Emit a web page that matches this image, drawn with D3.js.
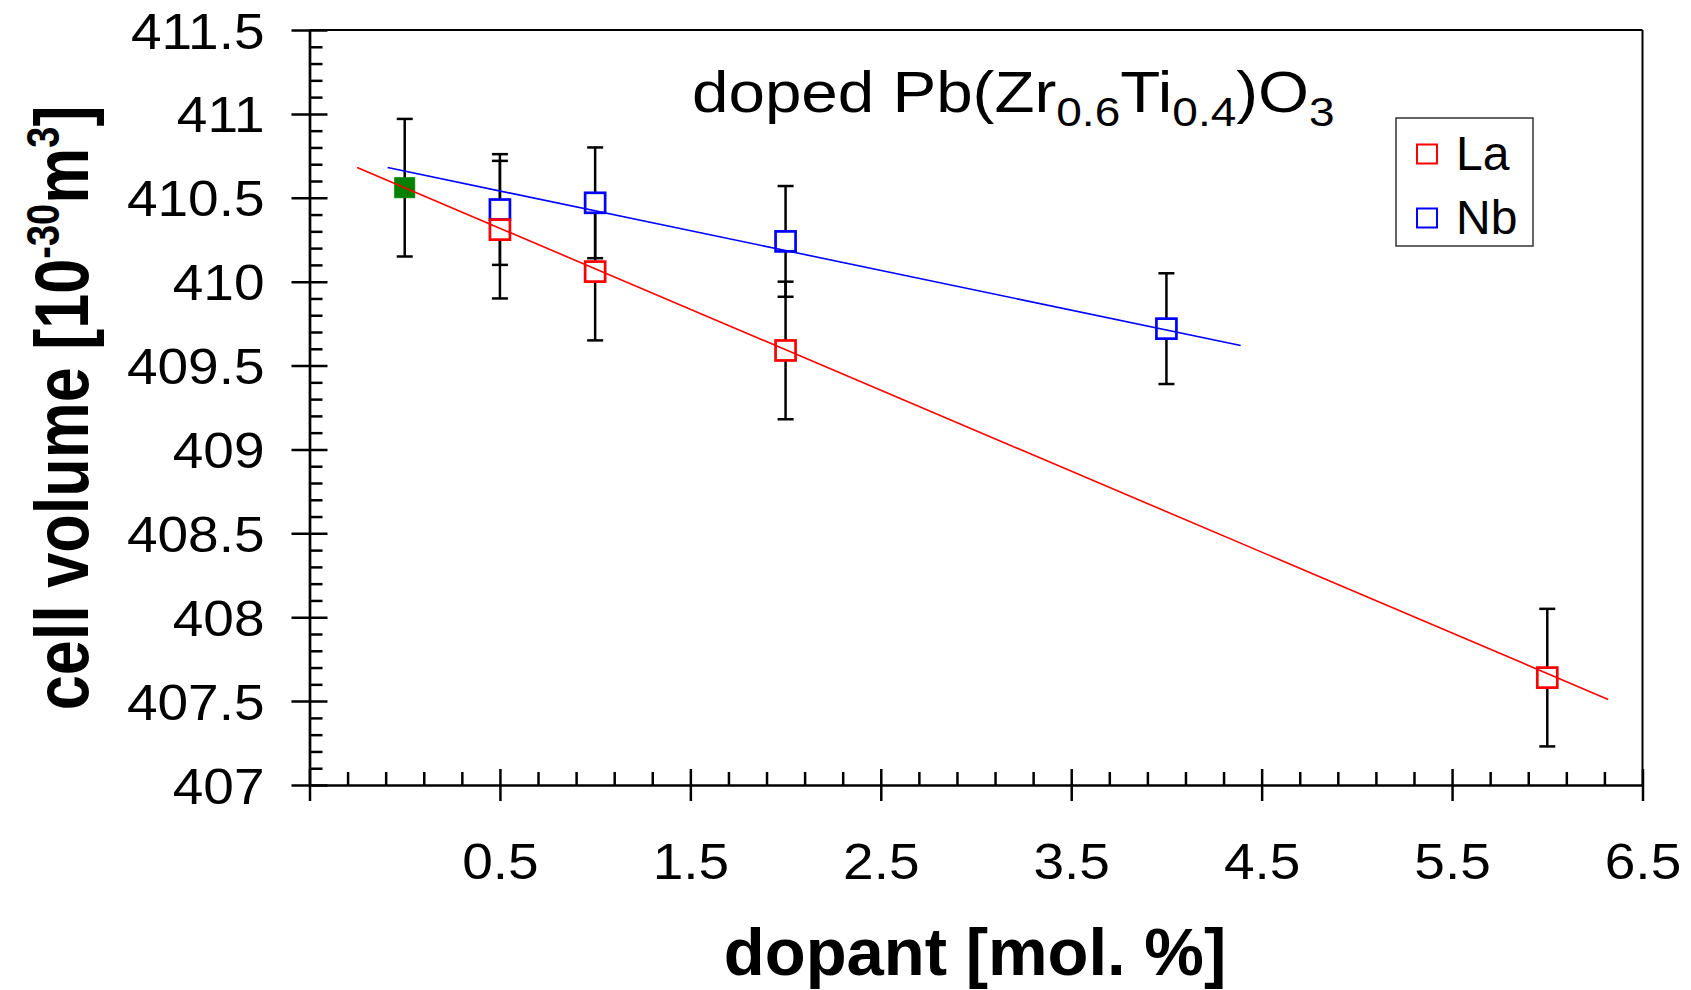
<!DOCTYPE html>
<html>
<head>
<meta charset="utf-8">
<script src="https://cdn.jsdelivr.net/npm/d3@7/dist/d3.min.js"></script>
<style>
  html, body { margin: 0; padding: 0; background: #fff; }
  svg text { font-family: "Liberation Sans", Arial, Helvetica, sans-serif; }
</style>
</head>
<body>
<div id="wrapper"></div>
<script>
// data
const laDopant = [0.5, 1, 2, 6];
const laVolume = [410.31, 410.06, 409.59, 407.64];
const laError  = [0.41, 0.41, 0.41, 0.41];

const nbDopant = [0.5, 1, 2, 4];
const nbVolume = [410.43, 410.47, 410.24, 409.72];
const nbError  = [0.33, 0.33, 0.33, 0.33];

// undoped point (filled green)
const pztDopant = [0];
const pztVolume = [410.56];
const pztError  = [0.41];

// linear fits, end points
const laFitX = [-0.25, 6.32];
const laFitY = [410.68, 407.51];
const nbFitX = [-0.09, 4.39];
const nbFitY = [410.68, 409.62];

const xTickValues = [-0.5, 0.5, 1.5, 2.5, 3.5, 4.5, 5.5, 6.5];
const yTickValues = [407, 407.5, 408, 408.5, 409, 409.5, 410, 410.5, 411, 411.5];

const legendNames = ["La", "Nb"];
const legendColors = ["#ff0000", "#0000ff"];

function drawChart() {
    let dimensions = {
        width: 1691,
        height: 990,
        margin: { top: 30, right: 48.5, bottom: 205, left: 309.5 },
    };
    dimensions.boundedWidth = dimensions.width - dimensions.margin.left - dimensions.margin.right;
    dimensions.boundedHeight = dimensions.height - dimensions.margin.top - dimensions.margin.bottom;

    const wrapper = d3.select("#wrapper")
        .append("svg")
        .attr("width", dimensions.width)
        .attr("height", dimensions.height);

    const bounds = wrapper.append("g")
        .attr("transform", `translate(${dimensions.margin.left},${dimensions.margin.top})`);

    const xScale = d3.scaleLinear().domain([-0.5, 6.5]).range([0, dimensions.boundedWidth]);
    const yScale = d3.scaleLinear().domain([407, 411.5]).range([dimensions.boundedHeight, 0]);

    // frame (top + right)
    bounds.append("line")
        .attr("x1", 0).attr("x2", dimensions.boundedWidth)
        .attr("y1", 0).attr("y2", 0)
        .attr("stroke", "#000").attr("stroke-width", 2);
    bounds.append("line")
        .attr("x1", dimensions.boundedWidth).attr("x2", dimensions.boundedWidth)
        .attr("y1", 0).attr("y2", dimensions.boundedHeight)
        .attr("stroke", "#000").attr("stroke-width", 2);

    // minor ticks
    const xMinor = d3.range(0, 36).filter(i => i % 5 !== 0).map(i => -0.5 + i * 0.2);
    const yMinor = d3.range(0, 46).filter(i => i % 5 !== 0).map(i => 407 + i * 0.1);

    const xMinorAxis = bounds.append("g")
        .attr("transform", `translate(0,${dimensions.boundedHeight})`)
        .call(d3.axisBottom(xScale).tickValues(xMinor).tickSize(-13).tickFormat(""));
    const yMinorAxis = bounds.append("g")
        .call(d3.axisLeft(yScale).tickValues(yMinor).tickSize(-13).tickFormat(""));
    [xMinorAxis, yMinorAxis].forEach(a => {
        a.select(".domain").remove();
        a.selectAll("line").attr("stroke-width", 2.5);
    });

    // major axes
    const xAxis = bounds.append("g")
        .attr("transform", `translate(0,${dimensions.boundedHeight})`)
        .call(d3.axisBottom(xScale)
            .tickValues(xTickValues)
            .tickSizeOuter(0)
            .tickFormat(d => d < 0 ? "" : d3.format(".1f")(d)));
    xAxis.selectAll(".tick line").attr("y1", -16).attr("y2", 16).attr("stroke-width", 2.5);
    xAxis.selectAll(".tick text")
        .attr("y", 0).attr("dy", 0)
        .attr("transform", "translate(0,94) scale(1.1,1)")
        .attr("font-size", 50).attr("fill", "#000");

    const yAxis = bounds.append("g")
        .call(d3.axisLeft(yScale)
            .tickValues(yTickValues)
            .tickSizeOuter(0)
            .tickFormat(d3.format("")));
    yAxis.selectAll(".tick line").attr("x1", 18).attr("x2", -18).attr("stroke-width", 2.5);
    yAxis.selectAll(".tick text")
        .attr("x", 0).attr("dy", "0.36em")
        .attr("transform", "translate(-45,0) scale(1.1,1)")
        .attr("font-size", 50).attr("fill", "#000");

    [xAxis, yAxis].forEach(a => a.select(".domain").attr("stroke-width", 2.7));

    // error bars
    const errData = [];
    laDopant.forEach((d, i) => errData.push({ x: d, y: laVolume[i], e: laError[i] }));
    nbDopant.forEach((d, i) => errData.push({ x: d, y: nbVolume[i], e: nbError[i] }));
    pztDopant.forEach((d, i) => errData.push({ x: d, y: pztVolume[i], e: pztError[i] }));

    const errGroup = bounds.append("g").attr("stroke", "#000").attr("stroke-width", 2.5);
    const capHalf = 8;
    errData.forEach(d => {
        const cx = xScale(d.x);
        errGroup.append("line")
            .attr("x1", cx).attr("x2", cx)
            .attr("y1", yScale(d.y + d.e)).attr("y2", yScale(d.y - d.e));
        [d.y + d.e, d.y - d.e].forEach(v => {
            errGroup.append("line")
                .attr("x1", cx - capHalf).attr("x2", cx + capHalf)
                .attr("y1", yScale(v)).attr("y2", yScale(v));
        });
    });

    // markers
    const size = 20;
    function drawSquares(xs, ys, color, fill) {
        bounds.append("g").selectAll("rect")
            .data(xs.map((d, i) => ({ x: d, y: ys[i] })))
            .enter()
            .append("rect")
            .attr("x", d => xScale(d.x) - size / 2)
            .attr("y", d => yScale(d.y) - size / 2)
            .attr("width", size).attr("height", size)
            .attr("fill", fill)
            .attr("stroke", color)
            .attr("stroke-width", fill === "#fff" ? 2.7 : 1);
    }
    drawSquares(pztDopant, pztVolume, "#0a8a0a", "#008000");
    drawSquares(nbDopant, nbVolume, "#0000ff", "#fff");
    drawSquares(laDopant, laVolume, "#ff0000", "#fff");

    // fit lines
    const line = d3.line().x(d => xScale(d[0])).y(d => yScale(d[1]));
    bounds.append("path")
        .datum(laFitX.map((d, i) => [d, laFitY[i]]))
        .attr("d", line).attr("fill", "none")
        .attr("stroke", "#ff0000").attr("stroke-width", 1.6);
    bounds.append("path")
        .datum(nbFitX.map((d, i) => [d, nbFitY[i]]))
        .attr("d", line).attr("fill", "none")
        .attr("stroke", "#0000ff").attr("stroke-width", 1.6);

    // title
    const title = wrapper.append("text")
        .attr("transform", "translate(692,112) scale(1.15,1)")
        .attr("font-size", 57).attr("fill", "#000");
    const sub = (txt) => {
        title.append("tspan").attr("font-size", 40).attr("dy", 14).text(txt);
    };
    title.append("tspan").text("doped Pb(Zr");
    sub("0.6");
    title.append("tspan").attr("dy", -14).text("Ti");
    sub("0.4");
    title.append("tspan").attr("dy", -14).text(")O");
    sub("3");

    // legend
    const legend = wrapper.append("g").attr("transform", "translate(1396,118)");
    legend.append("rect")
        .attr("width", 137).attr("height", 128)
        .attr("fill", "#fff").attr("stroke", "#333").attr("stroke-width", 1.5);
    legendNames.forEach((name, i) => {
        const row = legend.append("g").attr("transform", `translate(0,${36 + i * 64})`);
        row.append("rect")
            .attr("x", 21).attr("y", -9.5).attr("width", 20).attr("height", 19)
            .attr("fill", "none").attr("stroke", legendColors[i]).attr("stroke-width", 2);
        row.append("text")
            .attr("x", 60).attr("y", 16)
            .attr("font-size", 48).attr("fill", "#000")
            .text(name);
    });

    // axis titles
    wrapper.append("text")
        .attr("x", 975).attr("y", 975)
        .attr("text-anchor", "middle")
        .attr("font-size", 67).attr("font-weight", "bold")
        .text("dopant [mol. %]");

    const yTitle = wrapper.append("text")
        .attr("transform", "translate(88,408) rotate(-90) scale(1,1.2)")
        .attr("text-anchor", "middle")
        .attr("font-size", 63).attr("font-weight", "bold");
    yTitle.append("tspan").text("cell volume [10");
    yTitle.append("tspan").attr("font-size", 38).attr("dy", -24).text("-30");
    yTitle.append("tspan").attr("dy", 24).text("m");
    yTitle.append("tspan").attr("font-size", 38).attr("dy", -24).text("3");
    yTitle.append("tspan").attr("dy", 24).text("]");
}
drawChart();
</script>
</body>
</html>
